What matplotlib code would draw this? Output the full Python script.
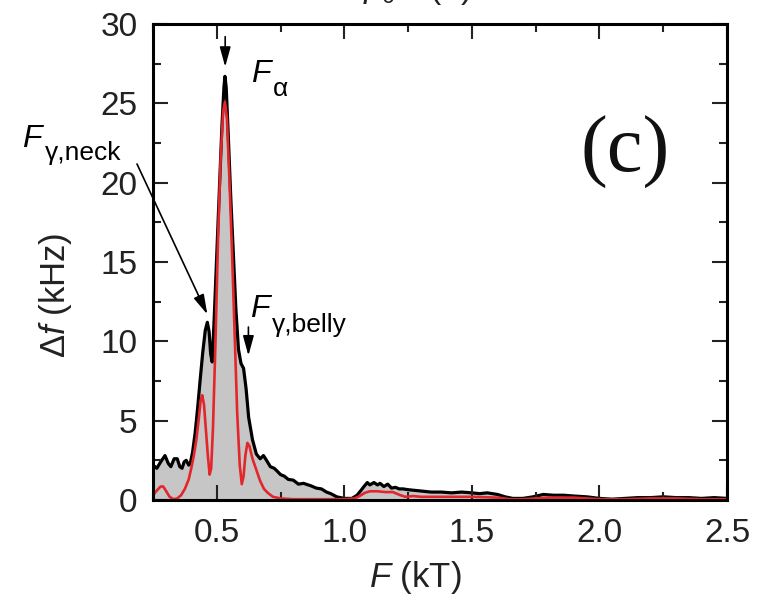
import matplotlib
matplotlib.use("Agg")
import matplotlib.pyplot as plt
from matplotlib.ticker import MultipleLocator

plt.rcParams['font.family'] = ['Liberation Sans', 'DejaVu Sans']
plt.rcParams['mathtext.fontset'] = 'custom'
plt.rcParams['mathtext.rm'] = 'Liberation Sans'
plt.rcParams['mathtext.it'] = 'Liberation Sans:italic'
plt.rcParams['mathtext.bf'] = 'Liberation Sans:bold'

# ---- data ----
F_black = [0.25, 0.265, 0.28, 0.297, 0.31, 0.32, 0.333, 0.345, 0.355, 0.364, 0.372, 0.38,
           0.39, 0.396, 0.405, 0.415, 0.425, 0.435, 0.445, 0.455, 0.463, 0.47, 0.476, 0.482,
           0.49, 0.50, 0.51, 0.52, 0.528, 0.532, 0.537, 0.545, 0.555, 0.565, 0.575, 0.585,
           0.595, 0.605, 0.615, 0.625, 0.64, 0.655, 0.67, 0.683, 0.695, 0.71, 0.725, 0.738,
           0.75, 0.765, 0.78, 0.80, 0.82, 0.84, 0.868, 0.89, 0.91, 0.93, 0.947, 0.97, 1.0,
           1.03, 1.05, 1.065, 1.077, 1.09, 1.10, 1.116, 1.13, 1.14, 1.155, 1.17, 1.185, 1.20,
           1.215, 1.23, 1.25, 1.28, 1.31, 1.34, 1.38, 1.42, 1.46, 1.50, 1.53, 1.56, 1.60,
           1.63, 1.66, 1.70, 1.74, 1.78, 1.82, 1.86, 1.90, 1.95, 2.0, 2.05, 2.1, 2.15, 2.2,
           2.25, 2.3, 2.35, 2.4, 2.45, 2.5]
df_black = [2.2, 2.0, 2.4, 2.8, 2.3, 2.1, 2.6, 2.6, 2.1, 2.0, 2.4, 2.5,
            2.2, 2.3, 3.0, 4.2, 5.8, 7.6, 9.3, 10.7, 11.2, 10.6, 9.2, 8.7,
            11.5, 15.5, 19.5, 23.5, 26.0, 26.7, 26.0, 23.0, 19.0, 15.5, 12.0, 9.5,
            8.6, 8.3, 7.0, 5.2, 3.8, 2.9, 2.6, 2.8, 2.5, 2.1, 2.0, 1.8,
            1.6, 1.5, 1.3, 1.25, 1.0, 1.05, 0.9, 0.75, 0.7, 0.5, 0.4, 0.2, 0.1,
            0.1, 0.3, 0.6, 0.85, 1.1, 0.95, 1.1, 0.95, 1.05, 0.85, 1.0, 0.75, 0.8,
            0.7, 0.7, 0.65, 0.6, 0.55, 0.5, 0.5, 0.45, 0.5, 0.45, 0.4, 0.45, 0.35,
            0.2, 0.1, 0.1, 0.2, 0.35, 0.3, 0.3, 0.25, 0.2, 0.1, 0.05, 0.1, 0.15, 0.15,
            0.2, 0.15, 0.15, 0.1, 0.15, 0.1]

F_red = [0.25, 0.265, 0.28, 0.29, 0.30, 0.315, 0.33, 0.345, 0.36, 0.375, 0.39, 0.40,
         0.41, 0.42, 0.43, 0.437, 0.443, 0.45, 0.457, 0.465, 0.472, 0.478, 0.485, 0.495,
         0.505, 0.515, 0.525, 0.532, 0.54, 0.55, 0.56, 0.57, 0.58, 0.59, 0.598, 0.605,
         0.612, 0.62, 0.628, 0.64, 0.655, 0.67, 0.685, 0.70, 0.72, 0.75, 0.80, 0.85,
         0.90, 0.95, 1.0, 1.04, 1.06, 1.08, 1.10, 1.13, 1.16, 1.19, 1.22, 1.24, 1.27,
         1.3, 1.4, 1.5, 1.6, 1.65, 1.7, 1.8, 1.9, 2.0, 2.1, 2.2, 2.3, 2.4, 2.5]
df_red = [0.3, 0.6, 0.85, 0.85, 0.6, 0.2, 0.05, 0.1, 0.3, 0.7, 1.3, 2.0,
          2.8, 3.8, 5.2, 6.3, 6.6, 6.0, 4.5, 2.8, 1.6, 2.0, 4.5, 10.0,
          16.5, 21.5, 24.5, 25.1, 24.0, 20.0, 15.5, 10.5, 5.5, 2.2, 1.0, 1.5,
          2.8, 3.6, 3.4, 2.6, 1.9, 1.2, 0.7, 0.45, 0.2, 0.1, 0.05, 0.05,
          0.05, 0.05, 0.05, 0.1, 0.25, 0.45, 0.55, 0.55, 0.5, 0.5, 0.3, 0.2, 0.25,
          0.2, 0.2, 0.2, 0.15, 0.05, 0.05, 0.15, 0.15, 0.05, 0.05, 0.1, 0.1, 0.05, 0.05]

xticks = [0.5, 1.0, 1.5, 2.0, 2.5]
xticklabels = ['0.5', '1.0', '1.5', '2.0', '2.5']
yticks = [0, 5, 10, 15, 20, 25, 30]

W, H = 762, 601
fig = plt.figure(figsize=(W / 100, H / 100), dpi=100)
ax = fig.add_axes([153 / W, 1 - 500 / H, (727 - 153) / W, (500 - 24) / H])

ax.fill_between(F_black, 0, df_black, color='#c6c6c6', lw=0, zorder=1)
ax.plot(F_black, df_black, color='black', lw=2.3, zorder=2)
ax.plot(F_red, df_red, color='#e3262b', lw=1.9, zorder=3)

ax.set_xlim(0.25, 2.5)
ax.set_ylim(0, 30)
ax.set_xticks(xticks)
ax.set_xticklabels(xticklabels)
ax.set_yticks(yticks)
ax.xaxis.set_minor_locator(MultipleLocator(0.25))
ax.yaxis.set_minor_locator(MultipleLocator(2.5))
ax.tick_params(which='both', direction='in', top=True, right=True, width=1.5, colors='#222222')
ax.tick_params(which='major', length=11)
ax.tick_params(which='minor', length=6)
ax.tick_params(axis='x', which='major', labelsize=24, pad=13)
ax.tick_params(axis='y', which='major', labelsize=24, pad=11)
for s in ax.spines.values():
    s.set_linewidth(2.2)
    s.set_zorder(5)
ax.set_axisbelow(False)
for lab in ax.get_xticklabels() + ax.get_yticklabels():
    lab.set_color('#222222')


def px(x, y):
    return x / W, 1 - y / H


# axis labels
fig.text(*px(55, 295), 'Δ$f$ (kHz)', rotation=90, ha='center', va='center', fontsize=25, color='#222222')
fig.text(*px(415, 578), '$F$ (kT)', ha='center', va='center', fontsize=25, color='#222222')

# cut-off top label (only its lower edge is visible in the original)
fig.text(*px(363, -2), r'$\mu_0H$ (T)', ha='left', va='baseline', fontsize=24, color='#222222')

# panel label
fig.text(*px(625, 152), '(c)', ha='center', va='center', fontsize=58,
         family=['Liberation Serif', 'DejaVu Serif'], color='#111111')

# peak labels
fig.text(*px(251, 82), 'F', fontstyle='italic', fontsize=23, va='baseline', ha='left')
fig.text(*px(273, 96), 'α', fontsize=19, va='baseline', ha='left')
fig.text(*px(22, 147), 'F', fontstyle='italic', fontsize=23, va='baseline', ha='left')
fig.text(*px(45, 160), 'γ,neck', fontsize=19, va='baseline', ha='left')
fig.text(*px(250, 317), 'F', fontstyle='italic', fontsize=23, va='baseline', ha='left')
fig.text(*px(272, 332), 'γ,belly', fontsize=19, va='baseline', ha='left')

arrow = dict(arrowstyle='-|>,head_length=0.8,head_width=0.22', color='black', lw=1.2,
             mutation_scale=15, shrinkA=0, shrinkB=0)
ax.annotate('', xy=(0.533, 27.3), xytext=(0.533, 29.2), arrowprops=arrow, annotation_clip=False)
ax.annotate('', xy=(0.624, 9.1), xytext=(0.624, 10.9), arrowprops=arrow, annotation_clip=False)
ax.annotate('', xy=(0.463, 11.7), xycoords='data', xytext=(137, H - 164),
            textcoords='figure pixels', arrowprops=arrow, annotation_clip=False)

fig.savefig('out.png', dpi=100)
